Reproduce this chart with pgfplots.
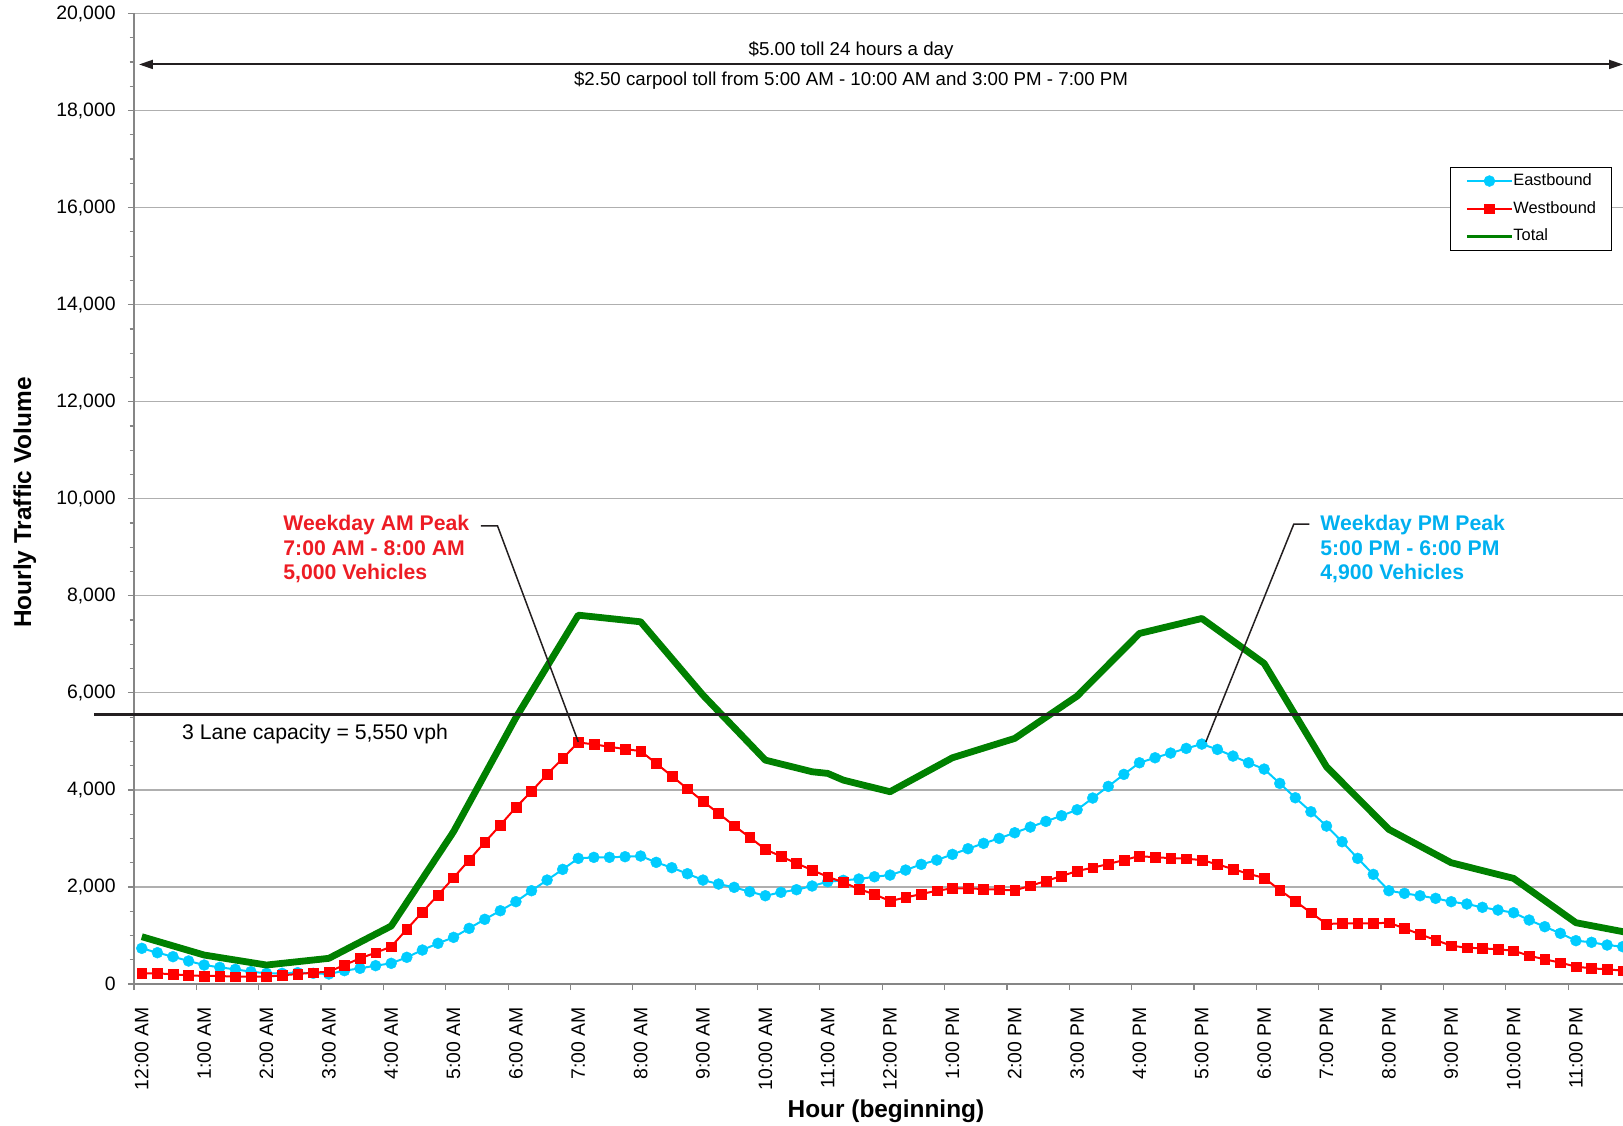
\documentclass[border=0pt]{standalone}
\usepackage{fontspec}
\setmainfont{Liberation Sans}
\usepackage{pgfplots}
\pgfplotsset{compat=1.18}
\usepackage{pgfplotstable}
\usetikzlibrary{arrows.meta}
\definecolor{eb}{RGB}{0,204,255}
\definecolor{wb}{RGB}{255,0,0}
\definecolor{tot}{RGB}{0,128,0}
\definecolor{axgray}{RGB}{134,134,134}
\definecolor{gridgray}{RGB}{175,175,175}
\definecolor{amred}{RGB}{237,28,36}
\definecolor{pmcyan}{RGB}{0,176,240}
\definecolor{darkline}{RGB}{35,31,32}

\pgfplotstableread{
t east west
0.125 735 220
0.375 645 220
0.625 563 199
0.875 474 179
1.125 391 165
1.375 343 165
1.625 302 151
1.875 254 151
2.125 220 151
2.375 220 179
2.625 233 206
2.875 220 233
3.125 206 254
3.375 275 391
3.625 323 529
3.875 378 645
4.125 426 769
4.375 550 1127
4.625 700 1483
4.875 838 1833
5.125 961 2190
5.375 1147 2554
5.625 1333 2919
5.875 1510 3275
6.125 1696 3640
6.375 1922 3970
6.625 2142 4320
6.875 2362 4649
7.125 2589 4979
7.375 2610 4938
7.625 2610 4889
7.875 2623 4841
8.125 2637 4800
8.375 2507 4546
8.625 2397 4285
8.875 2273 4023
9.125 2142 3764
9.375 2060 3516
9.625 1992 3261
9.875 1902 3022
10.125 1819 2775
10.375 1889 2631
10.625 1943 2486
10.875 2019 2348
11.125 2108 2210
11.375 2136 2095
11.625 2163 1957
11.875 2210 1848
12.125 2245 1710
12.375 2348 1782
12.625 2465 1854
12.875 2554 1922
13.125 2671 1971
13.375 2788 1971
13.625 2898 1957
13.875 3001 1943
14.125 3117 1929
14.375 3234 2025
14.625 3351 2122
14.875 3468 2225
15.125 3591 2328
15.375 3832 2397
15.625 4072 2472
15.875 4320 2554
16.125 4559 2637
16.375 4662 2610
16.625 4759 2596
16.875 4855 2582
17.125 4944 2554
17.375 4834 2465
17.625 4697 2369
17.875 4559 2270
18.125 4429 2185
18.375 4134 1936
18.625 3838 1706
18.875 3550 1469
19.125 3255 1236
19.375 2932 1250
19.625 2589 1250
19.875 2259 1250
20.125 1922 1263
20.375 1868 1147
20.625 1819 1024
20.875 1765 906
21.125 1696 789
21.375 1648 748
21.625 1580 735
21.875 1524 714
22.125 1469 686
22.375 1318 583
22.625 1181 508
22.875 1044 440
23.125 893 357
23.375 859 323
23.625 803 302
23.875 769 275
}\dirdata

\pgfplotstableread{
t total
0.125 975
1.125 597
2.125 391
3.125 529
4.125 1195
5.125 3140
6.125 5490
7.125 7601
8.125 7464
9.125 5953
10.125 4614
10.875 4374
11.125 4340
11.375 4202
12.125 3962
13.125 4662
14.125 5061
15.125 5933
16.125 7224
17.125 7533
18.125 6606
19.125 4477
20.125 3186
21.125 2499
22.125 2177
23.125 1263
24.125 1018
}\totdata

\begin{document}
\begin{tikzpicture}
\begin{axis}[
  at={(0,0)}, anchor=south west,
  scale only axis, width=744.5pt, height=485.25pt,
  xmin=0, xmax=23.88, ymin=0, ymax=20000,
  axis x line=bottom, axis y line=left,
  axis line style={-, draw=axgray, line width=1.3pt},
  ytick={0,2000,...,20000}, minor y tick num=3,
  ymajorgrids, major grid style={draw=gridgray, line width=0.6pt},
  xtick={0,...,23},
  xticklabels={12:00 AM,1:00 AM,2:00 AM,3:00 AM,4:00 AM,5:00 AM,6:00 AM,7:00 AM,8:00 AM,9:00 AM,10:00 AM,11:00 AM,12:00 PM,1:00 PM,2:00 PM,3:00 PM,4:00 PM,5:00 PM,6:00 PM,7:00 PM,8:00 PM,9:00 PM,10:00 PM,11:00 PM},
  tick align=outside, major tick length=3pt, minor tick length=2.2pt,
  tick style={draw=axgray, line width=0.6pt},
  xticklabel style={font=\fontsize{9.7}{10}\selectfont, rotate=90, anchor=east, inner sep=0pt, yshift=-3.9pt},
  xticklabel shift=8.3pt,
  yticklabel style={font=\fontsize{9.7}{10}\selectfont, anchor=east, inner sep=0pt},
  yticklabel shift=6pt,
  scaled y ticks=false,
  /pgf/number format/1000 sep={,},
  /pgf/number format/assume math mode=true,
  xlabel={Hour (beginning)},
  xlabel style={font=\bfseries\fontsize{12.2}{14}\selectfont, at={(axis description cs:0.505,-0.1315)}, anchor=center},
  ylabel={Hourly Traffic Volume},
  ylabel style={font=\bfseries\fontsize{12.2}{14}\selectfont, at={(axis description cs:-0.0733,0.4961)}, anchor=center},
  clip marker paths=true,
  legend image code/.code={\draw[mark repeat=2,mark phase=2,#1] plot coordinates {(0cm,0cm) (0.395cm,0cm) (0.79cm,0cm)};},
  legend style={font=\fontsize{8.2}{9.8}\selectfont, draw=black, line width=0.6pt,
    at={(0.9924,0.8421)}, anchor=north east,
    inner xsep=7.5pt, inner ysep=3pt, row sep=6.15pt,
    nodes={inner sep=0pt, text height=6pt, text depth=1.7pt},
    /tikz/column 2/.style={column sep=2pt}},
  legend cell align=left,
]
\addplot[eb, line width=1pt, mark=*, mark size=2.75pt, mark options={fill=eb, draw=eb, line width=0.2pt}] table[x=t,y=east]{\dirdata};
\addlegendentry{Eastbound}
\addplot[wb, line width=1pt, mark=square*, mark size=2.45pt, mark options={fill=wb, draw=wb, line width=0.2pt}] table[x=t,y=west]{\dirdata};
\addlegendentry{Westbound}
\addplot[tot, line width=3.4pt, line join=round, legend image post style={line width=1.5pt}] table[x=t,y=total]{\totdata};
\addlegendentry{Total}

\coordinate (capL) at (axis cs:-0.64,5550);
\coordinate (capR) at (axis cs:23.88,5550);

\draw[darkline, line width=1pt, {Triangle[length=7pt,width=4.5pt]}-{Triangle[length=7pt,width=4.5pt]}] (axis cs:0.08,18950) -- (axis cs:23.88,18950);
\node[font=\fontsize{9.35}{10}\selectfont, inner sep=0pt, yshift=7pt] at (axis cs:11.5,18950) {\$5.00 toll 24 hours a day};
\node[font=\fontsize{9.35}{10}\selectfont, inner sep=0pt, yshift=-8pt] at (axis cs:11.5,18950) {\$2.50 carpool toll from 5:00 AM - 10:00 AM and 3:00 PM - 7:00 PM};

\node[anchor=west, inner sep=0pt, font=\fontsize{10.6}{12}\selectfont] at (axis cs:0.766,5160) {3 Lane capacity = 5,550 vph};

\node[anchor=west, align=left, inner sep=0pt, text=amred, font=\bfseries\fontsize{10.6}{12.25}\selectfont] at (axis cs:2.39,8955) {Weekday AM Peak\\7:00 AM - 8:00 AM\\5,000 Vehicles};
\draw[darkline, line width=0.75pt] (axis cs:5.565,9441) -- (axis cs:5.83,9441) -- (axis cs:7.125,4990);

\node[anchor=west, align=left, inner sep=0pt, text=pmcyan, font=\bfseries\fontsize{10.6}{12.25}\selectfont] at (axis cs:19.02,8955) {Weekday PM Peak\\5:00 PM - 6:00 PM\\4,900 Vehicles};
\draw[darkline, line width=0.75pt] (axis cs:18.85,9476) -- (axis cs:18.60,9476) -- (axis cs:17.19,4990);
\end{axis}
\draw[darkline, line width=1.65pt] (capL) -- (capR);
\pgfresetboundingbox
\path[use as bounding box] (-67pt,-70.5pt) rectangle (744.5pt,492pt);
\end{tikzpicture}
\end{document}
